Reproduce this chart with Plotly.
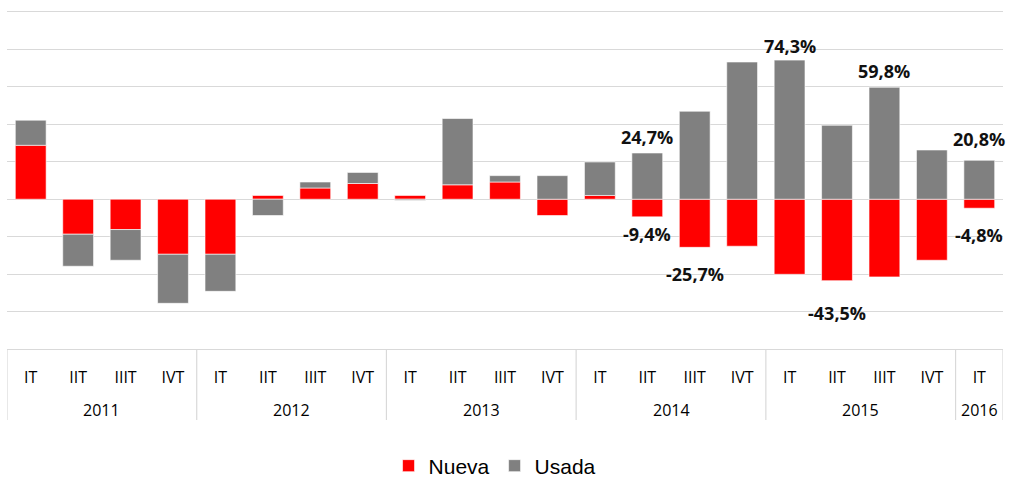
import plotly.graph_objects as go

# ---- data ----
years = ["2011"] * 4 + ["2012"] * 4 + ["2013"] * 4 + ["2014"] * 4 + ["2015"] * 4 + ["2016"]
quarters = ["IT", "IIT", "IIIT", "IVT"] * 5 + ["IT"]
nueva = [28.8, -18.7, -16.2, -29.4, -29.4, 2.0, 6.0, 8.4, 2.0, 7.7, 9.2, -8.7,
         2.0, -9.4, -25.7, -25.1, -40.1, -43.5, -41.5, -32.6, -4.8]
usada = [13.4, -17.1, -16.4, -26.2, -19.8, -8.7, 3.2, 5.9, -0.6, 35.4, 3.4, 12.6,
         17.9, 24.7, 47.0, 73.3, 74.3, 39.5, 59.8, 26.3, 20.8]
# which bars carry a value label
usada_labelled = [13, 16, 18, 20]
nueva_labelled = [13, 14, 17, 20]

# ---- styling ----
RED = "#FF0000"
GRAY = "#808080"
GRID = "#d9d9d9"
TXT = "#000000"
usada_shift = {13: 2, 16: 0, 18: 2, 20: 7}
nueva_shift = {13: 3, 14: 13, 17: 18, 20: 13}
PLOT_H = 337.0  # plot-area height in px (for paper offsets below the axis)
FIG_H = 479.0


def fmt(v):
    return f"{v:.1f}%".replace(".", ",")


idx = list(range(len(quarters)))

fig = go.Figure()
fig.add_trace(go.Bar(x=idx, y=nueva, name="Nueva",
                     marker=dict(color=RED, line=dict(color="rgba(255,255,255,0.6)", width=1))))
fig.add_trace(go.Bar(x=idx, y=usada, name="Usada",
                     marker=dict(color=GRAY, line=dict(color="rgba(255,255,255,0.6)", width=1))))

annotations = []
lab_font = dict(family="Open Sans", size=18, color="#111")
for i in usada_labelled:
    top = sum(v for v in (nueva[i], usada[i]) if v > 0)
    annotations.append(dict(x=i, y=top, xref="x", yref="y", text=f"<b>{fmt(usada[i])}</b>",
                            showarrow=False, yanchor="bottom", yshift=usada_shift[i],
                            font=lab_font))
for i in nueva_labelled:
    bottom = sum(v for v in (nueva[i], usada[i]) if v < 0)
    annotations.append(dict(x=i, y=bottom, xref="x", yref="y", text=f"<b>{fmt(nueva[i])}</b>",
                            showarrow=False, yanchor="top", yshift=-nueva_shift[i],
                            font=lab_font))

# year group labels and dividers (derived from the years list)
groups = []
for i, y in enumerate(years):
    if not groups or groups[-1][0] != y:
        groups.append([y, i, i])
    else:
        groups[-1][2] = i
shapes = []
for name, a, b in groups:
    annotations.append(dict(x=(a + b) / 2, y=-61 / PLOT_H, xref="x", yref="paper", text=name,
                            showarrow=False, yanchor="middle",
                            font=dict(family="Open Sans", size=16, color=TXT)))
    shapes.append(dict(type="line", xref="x", yref="paper", x0=a - 0.5, x1=a - 0.5,
                       y0=0, y1=-71 / PLOT_H, line=dict(color=GRID, width=1.2)))
shapes.append(dict(type="line", xref="x", yref="paper", x0=groups[-1][2] + 0.5,
                   x1=groups[-1][2] + 0.5, y0=0, y1=-71 / PLOT_H,
                   line=dict(color=GRID, width=1.2)))

fig.update_layout(
    width=1011, height=479,
    margin=dict(l=7, r=8, t=12, b=130, autoexpand=False),
    barmode="relative", bargap=0.35,
    plot_bgcolor="white", paper_bgcolor="white",
    showlegend=True,
    legend=dict(orientation="h", x=0.49, xanchor="center",
                yref="container", y=(FIG_H - 466) / FIG_H, yanchor="middle",
                font=dict(family="Liberation Sans", size=21, color=TXT),
                traceorder="normal"),
    annotations=annotations,
    shapes=shapes,
)
fig.update_yaxes(range=[-80, 100], dtick=20, tick0=0, showticklabels=False,
                 showgrid=True, gridcolor=GRID, gridwidth=1.2, zeroline=False, ticks="")
fig.update_xaxes(range=[-0.5, len(quarters) - 0.5], tickvals=idx, ticktext=quarters,
                 showline=True, mirror=True, linecolor=GRID, linewidth=1.2, ticks="",
                 ticklabelstandoff=14, automargin=False,
                 tickfont=dict(family="Open Sans", size=16, color=TXT),
                 showgrid=False, zeroline=False)

fig.write_html("out.html", config={"displayModeBar": False},
               post_script="document.body.style.margin='0';")
